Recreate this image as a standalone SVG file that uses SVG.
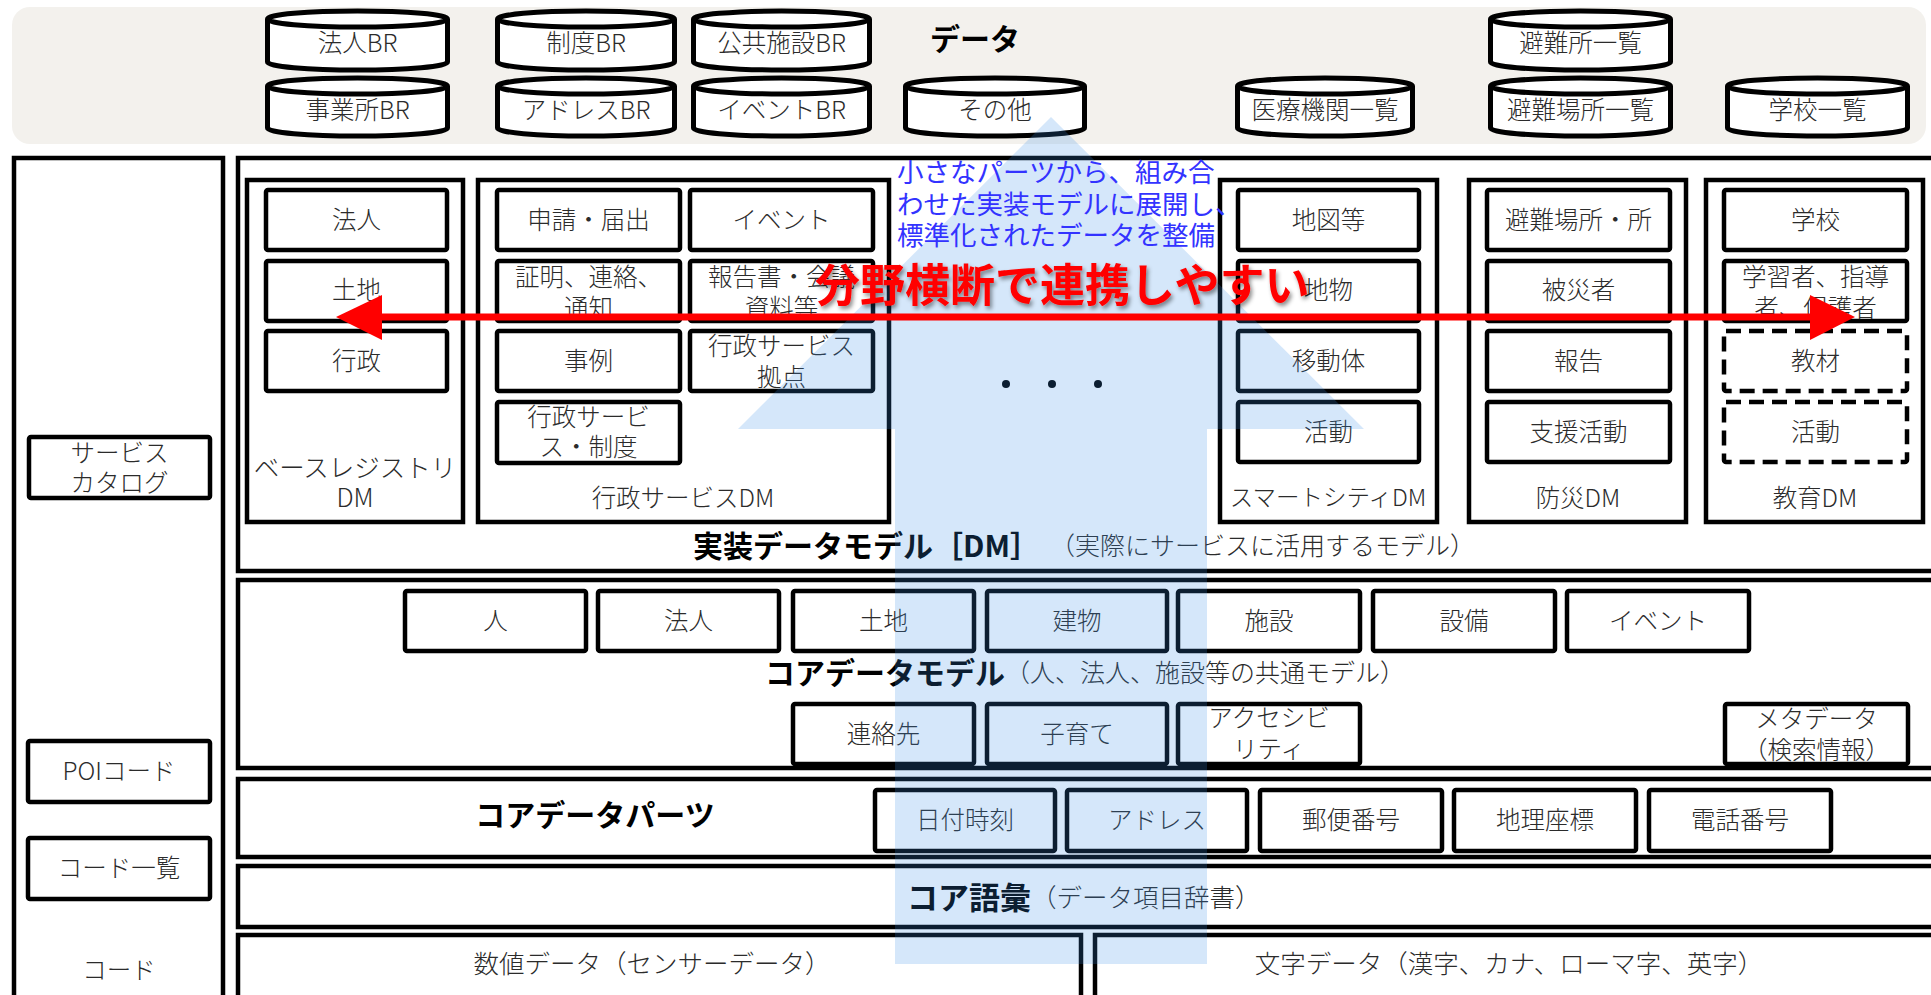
<svg xmlns="http://www.w3.org/2000/svg" width="1931" height="995" viewBox="0 0 1931 995">
<style>
.box{fill:#fff;stroke:#000;stroke-width:4.5}
.dash{fill:#fff;stroke:#000;stroke-width:4.5;stroke-dasharray:15 8}
.cyl{fill:#fff;stroke:#000;stroke-width:5}
text{font-family:"Noto Sans CJK JP","Noto Sans",sans-serif;dominant-baseline:central}
.t{font-size:24.5px;fill:#2b2b2b;text-anchor:middle;font-weight:300}
.L{font-size:25.5px}
.b{font-size:30px;font-weight:bold;fill:#000}
.n{font-size:25px;fill:#2b2b2b;font-weight:300}
</style>
<defs>
<filter id="sh" x="-5%" y="-30%" width="112%" height="170%">
<feDropShadow dx="2" dy="3" stdDeviation="2" flood-color="#000" flood-opacity="0.45"/>
</filter>
</defs>

<g id="data-band">
<rect x="12" y="7" width="1914" height="137" rx="18" fill="#f3f1ed"/>
<text class="b" x="975" y="37" text-anchor="middle">データ</text>
</g>

<g id="cyl-houjin-br"><path class="cyl" d="M267.5 19V62A90 8 0 0 0 447.5 62V19"/><ellipse class="cyl" cx="357.5" cy="19" rx="90" ry="8"/><text class="t" x="357.5" y="41">法人BR</text></g>
<g id="cyl-jigyousho-br"><path class="cyl" d="M267.5 86V128A90 8 0 0 0 447.5 128V86"/><ellipse class="cyl" cx="357.5" cy="86" rx="90" ry="8"/><text class="t" x="357.5" y="108">事業所BR</text></g>
<g id="cyl-seido-br"><path class="cyl" d="M497.5 19V62A88.5 8 0 0 0 674.5 62V19"/><ellipse class="cyl" cx="586" cy="19" rx="88.5" ry="8"/><text class="t" x="586" y="41">制度BR</text></g>
<g id="cyl-address-br"><path class="cyl" d="M497.5 86V128A88.5 8 0 0 0 674.5 128V86"/><ellipse class="cyl" cx="586" cy="86" rx="88.5" ry="8"/><text class="t" x="586" y="108">アドレスBR</text></g>
<g id="cyl-koukyou-br"><path class="cyl" d="M693.5 19V62A88 8 0 0 0 869.5 62V19"/><ellipse class="cyl" cx="781.5" cy="19" rx="88" ry="8"/><text class="t" x="781.5" y="41">公共施設BR</text></g>
<g id="cyl-event-br"><path class="cyl" d="M693.5 86V128A88 8 0 0 0 869.5 128V86"/><ellipse class="cyl" cx="781.5" cy="86" rx="88" ry="8"/><text class="t" x="781.5" y="108">イベントBR</text></g>
<g id="cyl-sonota"><path class="cyl" d="M905.5 86V128A89.5 8 0 0 0 1084.5 128V86"/><ellipse class="cyl" cx="995" cy="86" rx="89.5" ry="8"/><text class="t" x="995" y="108">その他</text></g>
<g id="cyl-iryou"><path class="cyl" d="M1237.5 86V128A87.5 8 0 0 0 1412.5 128V86"/><ellipse class="cyl" cx="1325" cy="86" rx="87.5" ry="8"/><text class="t" x="1325" y="108">医療機関一覧</text></g>
<g id="cyl-hinanjo"><path class="cyl" d="M1490.5 19V62A90 8 0 0 0 1670.5 62V19"/><ellipse class="cyl" cx="1580.5" cy="19" rx="90" ry="8"/><text class="t" x="1580.5" y="41">避難所一覧</text></g>
<g id="cyl-hinanbasho"><path class="cyl" d="M1490.5 86V128A90 8 0 0 0 1670.5 128V86"/><ellipse class="cyl" cx="1580.5" cy="86" rx="90" ry="8"/><text class="t" x="1580.5" y="108">避難場所一覧</text></g>
<g id="cyl-gakkou"><path class="cyl" d="M1727.5 86V128A90 8 0 0 0 1907.5 128V86"/><ellipse class="cyl" cx="1817.5" cy="86" rx="90" ry="8"/><text class="t" x="1817.5" y="108">学校一覧</text></g>

<g id="code-column">
<rect class="box" x="14" y="158" width="209" height="850"/>
<text class="t" x="119" y="968">コード</text>
</g>
<g id="service-catalog"><rect class="box" x="29" y="437" width="181" height="61" rx="2"/><text class="t" x="119.5" y="451">サービス</text><text class="t" x="119.5" y="481">カタログ</text></g>
<g id="poi-code"><rect class="box" x="28" y="741" width="182" height="61" rx="2"/><text class="t" x="119" y="769">POIコード</text></g>
<g id="code-list"><rect class="box" x="28" y="838" width="182" height="61" rx="2"/><text class="t" x="119" y="866">コード一覧</text></g>

<g id="dm-layer">
<rect class="box" x="238" y="158" width="1710" height="413"/>
<text x="693" y="544"><tspan class="b">実装データモデル［DM］</tspan><tspan class="n" x="1050">（実際にサービスに活用するモデル）</tspan></text>
</g>

<g id="base-registry-dm">
<rect class="box" x="247" y="180" width="216" height="342"/>
<text class="t L" x="355" y="465">ベースレジストリ</text><text class="t L" x="355" y="495">DM</text>
</g>
<g id="br-houjin"><rect class="box" x="266" y="190" width="181" height="60" rx="2"/><text class="t" x="356.5" y="218">法人</text></g>
<g id="br-tochi"><rect class="box" x="266" y="261" width="181" height="60" rx="2"/><text class="t" x="356.5" y="288">土地</text></g>
<g id="br-gyousei"><rect class="box" x="266" y="331" width="181" height="60" rx="2"/><text class="t" x="356.5" y="359">行政</text></g>

<g id="gyousei-service-dm">
<rect class="box" x="478" y="180" width="411" height="342"/>
<text class="t" x="683" y="496">行政サービスDM</text>
</g>
<g id="gs-shinsei"><rect class="box" x="497" y="190" width="183" height="60" rx="2"/><text class="t" x="588.5" y="218">申請・届出</text></g>
<g id="gs-event"><rect class="box" x="690" y="190" width="183" height="60" rx="2"/><text class="t" x="781.5" y="218">イベント</text></g>
<g id="gs-shoumei"><rect class="box" x="497" y="261" width="183" height="60" rx="2"/><text class="t" x="588.5" y="275">証明、連絡、</text><text class="t" x="588.5" y="306">通知</text></g>
<g id="gs-houkoku"><rect class="box" x="690" y="261" width="183" height="60" rx="2"/><text class="t" x="781.5" y="275">報告書・会議</text><text class="t" x="781.5" y="306">資料等</text></g>
<g id="gs-jirei"><rect class="box" x="497" y="331" width="183" height="60" rx="2"/><text class="t" x="588.5" y="359">事例</text></g>
<g id="gs-kyoten"><rect class="box" x="690" y="331" width="183" height="60" rx="2"/><text class="t" x="781.5" y="344">行政サービス</text><text class="t" x="781.5" y="375">拠点</text></g>
<g id="gs-seido"><rect class="box" x="497" y="402" width="183" height="61" rx="2"/><text class="t" x="588.5" y="415">行政サービ</text><text class="t" x="588.5" y="445">ス・制度</text></g>

<g id="ellipsis"><circle cx="1006" cy="384" r="4" fill="#000"/><circle cx="1052" cy="384" r="4" fill="#000"/><circle cx="1098" cy="384" r="4" fill="#000"/></g>

<g id="smartcity-dm">
<rect class="box" x="1220" y="180" width="217" height="342"/>
<text class="t" x="1328" y="496" style="font-size:23.5px">スマートシティDM</text>
</g>
<g id="sc-chizu"><rect class="box" x="1238" y="190" width="181" height="60" rx="2"/><text class="t" x="1328.5" y="218">地図等</text></g>
<g id="sc-chibutsu"><rect class="box" x="1238" y="261" width="181" height="60" rx="2"/><text class="t" x="1328.5" y="288">地物</text></g>
<g id="sc-idoutai"><rect class="box" x="1238" y="331" width="181" height="60" rx="2"/><text class="t" x="1328.5" y="359">移動体</text></g>
<g id="sc-katsudou"><rect class="box" x="1238" y="402" width="181" height="60" rx="2"/><text class="t" x="1328.5" y="430">活動</text></g>

<g id="bousai-dm">
<rect class="box" x="1469" y="180" width="217" height="342"/>
<text class="t" x="1578" y="496">防災DM</text>
</g>
<g id="bs-hinan"><rect class="box" x="1487" y="190" width="183" height="60" rx="2"/><text class="t" x="1578.5" y="218">避難場所・所</text></g>
<g id="bs-hisaisha"><rect class="box" x="1487" y="261" width="183" height="60" rx="2"/><text class="t" x="1578.5" y="288">被災者</text></g>
<g id="bs-houkoku"><rect class="box" x="1487" y="331" width="183" height="60" rx="2"/><text class="t" x="1578.5" y="359">報告</text></g>
<g id="bs-shien"><rect class="box" x="1487" y="402" width="183" height="60" rx="2"/><text class="t" x="1578.5" y="430">支援活動</text></g>

<g id="kyouiku-dm">
<rect class="box" x="1706" y="180" width="217" height="342"/>
<text class="t" x="1815" y="496">教育DM</text>
</g>
<g id="ky-gakkou"><rect class="box" x="1724" y="190" width="183" height="60" rx="2"/><text class="t" x="1815.5" y="218">学校</text></g>
<g id="ky-gakushuusha"><rect class="box" x="1724" y="261" width="183" height="60" rx="2"/><text class="t" x="1815.5" y="275">学習者、指導</text><text class="t" x="1815.5" y="306">者、保護者</text></g>
<g id="ky-kyouzai"><rect class="dash" x="1724" y="331" width="183" height="60" rx="2"/><text class="t" x="1815.5" y="359">教材</text></g>
<g id="ky-katsudou"><rect class="dash" x="1724" y="402" width="183" height="60" rx="2"/><text class="t" x="1815.5" y="430">活動</text></g>

<g id="core-data-model">
<rect class="box" x="238" y="580" width="1710" height="188"/>
<text x="765" y="671"><tspan class="b">コアデータモデル</tspan><tspan class="n">（人、法人、施設等の共通モデル）</tspan></text>
</g>
<g id="cm-hito"><rect class="box" x="405" y="591" width="181" height="60" rx="2"/><text class="t" x="495.5" y="619">人</text></g>
<g id="cm-houjin"><rect class="box" x="598" y="591" width="181" height="60" rx="2"/><text class="t" x="688.5" y="619">法人</text></g>
<g id="cm-tochi"><rect class="box" x="793" y="591" width="181" height="60" rx="2"/><text class="t" x="883.5" y="619">土地</text></g>
<g id="cm-tatemono"><rect class="box" x="987" y="591" width="180" height="60" rx="2"/><text class="t" x="1077" y="619">建物</text></g>
<g id="cm-shisetsu"><rect class="box" x="1178" y="591" width="182" height="60" rx="2"/><text class="t" x="1269" y="619">施設</text></g>
<g id="cm-setsubi"><rect class="box" x="1373" y="591" width="182" height="60" rx="2"/><text class="t" x="1464" y="619">設備</text></g>
<g id="cm-event"><rect class="box" x="1567" y="591" width="182" height="60" rx="2"/><text class="t" x="1658" y="619">イベント</text></g>
<g id="cm-renrakusaki"><rect class="box" x="793" y="704" width="181" height="60" rx="2"/><text class="t" x="883.5" y="732">連絡先</text></g>
<g id="cm-kosodate"><rect class="box" x="987" y="704" width="180" height="60" rx="2"/><text class="t" x="1077" y="732">子育て</text></g>
<g id="cm-access"><rect class="box" x="1178" y="704" width="182" height="60" rx="2"/><text class="t" x="1269" y="716">アクセシビ</text><text class="t" x="1269" y="747">リティ</text></g>
<g id="cm-meta"><rect class="box" x="1725" y="704" width="183" height="60" rx="2"/><text class="t" x="1816.5" y="717">メタデータ</text><text class="t" x="1816.5" y="748">（検索情報）</text></g>

<g id="core-data-parts">
<rect class="box" x="238" y="779" width="1710" height="78"/>
<text class="b" x="595" y="813" text-anchor="middle">コアデータパーツ</text>
</g>
<g id="cp-nichiji"><rect class="box" x="875" y="790" width="180" height="61" rx="2"/><text class="t" x="965" y="818">日付時刻</text></g>
<g id="cp-address"><rect class="box" x="1067" y="790" width="180" height="61" rx="2"/><text class="t" x="1157" y="818">アドレス</text></g>
<g id="cp-yuubin"><rect class="box" x="1260" y="790" width="182" height="61" rx="2"/><text class="t" x="1351" y="818">郵便番号</text></g>
<g id="cp-chiri"><rect class="box" x="1454" y="790" width="182" height="61" rx="2"/><text class="t" x="1545" y="818">地理座標</text></g>
<g id="cp-denwa"><rect class="box" x="1649" y="790" width="182" height="61" rx="2"/><text class="t" x="1740" y="818">電話番号</text></g>

<g id="core-vocabulary">
<rect class="box" x="238" y="866" width="1710" height="61"/>
<text x="907" y="895"><tspan class="b" style="font-size:31px">コア語彙</tspan><tspan class="n" style="font-size:25.5px">（データ項目辞書）</tspan></text>
</g>
<g id="numeric-data"><rect class="box" x="238" y="935" width="843" height="80"/><text class="t L" x="652" y="961">数値データ（センサーデータ）</text></g>
<g id="text-data"><rect class="box" x="1095" y="935" width="850" height="80"/><text class="t L" x="1509" y="961">文字データ（漢字、カナ、ローマ字、英字）</text></g>

<g id="connectors">
<polygon id="build-up-arrow" points="1051,117 1364,429 1207,429 1207,964 895,964 895,429 738,429" fill="#3a90e7" fill-opacity="0.21"/>
<g id="cross-domain-arrow" fill="#ff0000">
<line x1="375" y1="317" x2="1815" y2="317" stroke="#ff0000" stroke-width="7"/>
<polygon points="336,317 382,295 382,340"/>
<polygon points="1855,317 1810,295 1810,340"/>
</g>
</g>

<g id="annotation-blue" style="font-size:26.5px;fill:#3333ff">
<text x="897" y="170">小さなパーツから、組み合</text>
<text x="897" y="202">わせた実装モデルに展開し、</text>
<text x="897" y="233">標準化されたデータを整備</text>
</g>
<g id="annotation-red">
<text x="815" y="282" filter="url(#sh)" style="font-size:45px;font-weight:bold;fill:#ff0000">分野横断で連携しやすい</text>
</g>
</svg>
